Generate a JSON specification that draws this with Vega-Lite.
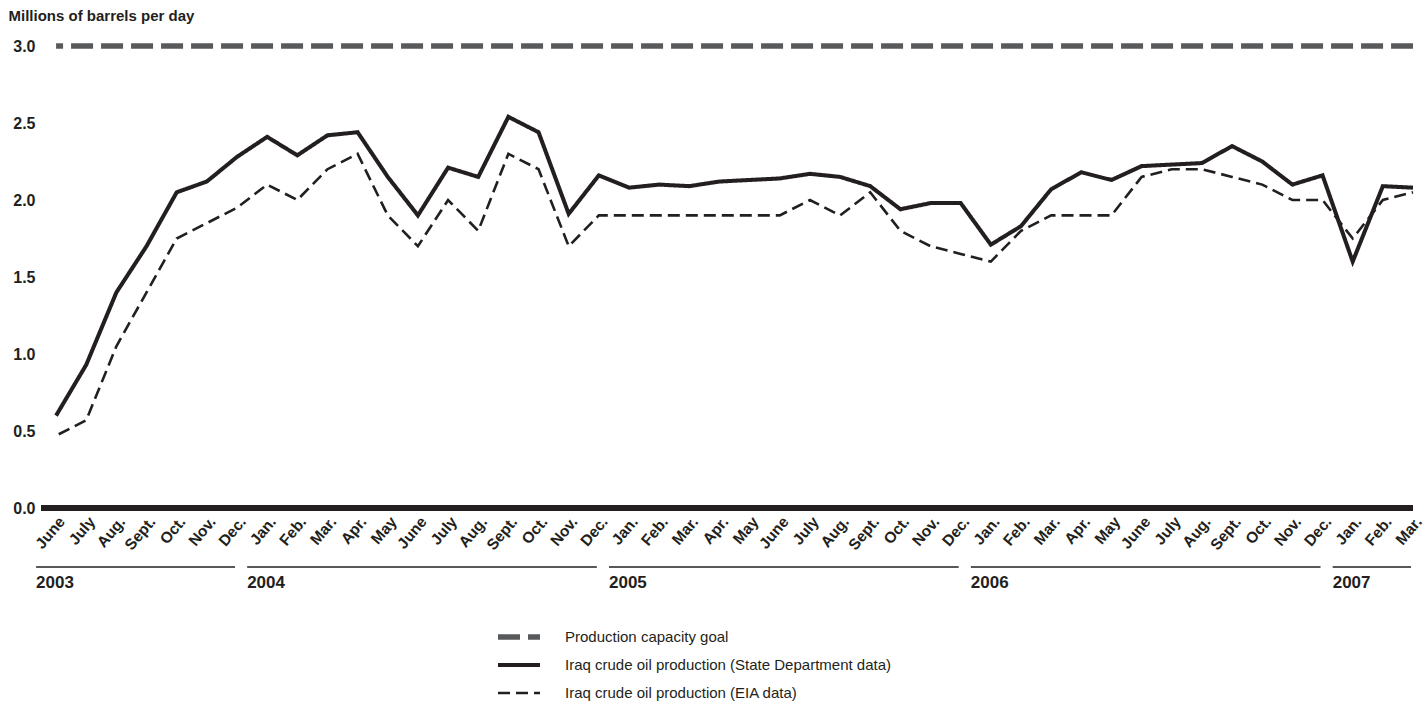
{
  "$schema": "https://vega.github.io/schema/vega-lite/v6.json",
  "padding": {"left": 8, "top": 8, "right": 5, "bottom": 5},
  "background": "white",
  "config": {"font": "Liberation Sans", "view": {"stroke": null}},
  "spacing": 13,
  "datasets": {
    "oil": [
      {"i": 0, "month": "June", "year": 2003, "goal": 3.0, "state": 0.60, "eia": 0.47},
      {"i": 1, "month": "July", "year": 2003, "goal": 3.0, "state": 0.93, "eia": 0.57},
      {"i": 2, "month": "Aug.", "year": 2003, "goal": 3.0, "state": 1.40, "eia": 1.05},
      {"i": 3, "month": "Sept.", "year": 2003, "goal": 3.0, "state": 1.70, "eia": 1.40},
      {"i": 4, "month": "Oct.", "year": 2003, "goal": 3.0, "state": 2.05, "eia": 1.75},
      {"i": 5, "month": "Nov.", "year": 2003, "goal": 3.0, "state": 2.12, "eia": 1.85},
      {"i": 6, "month": "Dec.", "year": 2003, "goal": 3.0, "state": 2.28, "eia": 1.95},
      {"i": 7, "month": "Jan.", "year": 2004, "goal": 3.0, "state": 2.41, "eia": 2.10},
      {"i": 8, "month": "Feb.", "year": 2004, "goal": 3.0, "state": 2.29, "eia": 2.00},
      {"i": 9, "month": "Mar.", "year": 2004, "goal": 3.0, "state": 2.42, "eia": 2.20},
      {"i": 10, "month": "Apr.", "year": 2004, "goal": 3.0, "state": 2.44, "eia": 2.30},
      {"i": 11, "month": "May", "year": 2004, "goal": 3.0, "state": 2.15, "eia": 1.90},
      {"i": 12, "month": "June", "year": 2004, "goal": 3.0, "state": 1.90, "eia": 1.70},
      {"i": 13, "month": "July", "year": 2004, "goal": 3.0, "state": 2.21, "eia": 2.00},
      {"i": 14, "month": "Aug.", "year": 2004, "goal": 3.0, "state": 2.15, "eia": 1.80},
      {"i": 15, "month": "Sept.", "year": 2004, "goal": 3.0, "state": 2.54, "eia": 2.30},
      {"i": 16, "month": "Oct.", "year": 2004, "goal": 3.0, "state": 2.44, "eia": 2.20},
      {"i": 17, "month": "Nov.", "year": 2004, "goal": 3.0, "state": 1.91, "eia": 1.70},
      {"i": 18, "month": "Dec.", "year": 2004, "goal": 3.0, "state": 2.16, "eia": 1.90},
      {"i": 19, "month": "Jan.", "year": 2005, "goal": 3.0, "state": 2.08, "eia": 1.90},
      {"i": 20, "month": "Feb.", "year": 2005, "goal": 3.0, "state": 2.10, "eia": 1.90},
      {"i": 21, "month": "Mar.", "year": 2005, "goal": 3.0, "state": 2.09, "eia": 1.90},
      {"i": 22, "month": "Apr.", "year": 2005, "goal": 3.0, "state": 2.12, "eia": 1.90},
      {"i": 23, "month": "May", "year": 2005, "goal": 3.0, "state": 2.13, "eia": 1.90},
      {"i": 24, "month": "June", "year": 2005, "goal": 3.0, "state": 2.14, "eia": 1.90},
      {"i": 25, "month": "July", "year": 2005, "goal": 3.0, "state": 2.17, "eia": 2.00},
      {"i": 26, "month": "Aug.", "year": 2005, "goal": 3.0, "state": 2.15, "eia": 1.90},
      {"i": 27, "month": "Sept.", "year": 2005, "goal": 3.0, "state": 2.09, "eia": 2.05},
      {"i": 28, "month": "Oct.", "year": 2005, "goal": 3.0, "state": 1.94, "eia": 1.80},
      {"i": 29, "month": "Nov.", "year": 2005, "goal": 3.0, "state": 1.98, "eia": 1.70},
      {"i": 30, "month": "Dec.", "year": 2005, "goal": 3.0, "state": 1.98, "eia": 1.65},
      {"i": 31, "month": "Jan.", "year": 2006, "goal": 3.0, "state": 1.71, "eia": 1.60},
      {"i": 32, "month": "Feb.", "year": 2006, "goal": 3.0, "state": 1.83, "eia": 1.80},
      {"i": 33, "month": "Mar.", "year": 2006, "goal": 3.0, "state": 2.07, "eia": 1.90},
      {"i": 34, "month": "Apr.", "year": 2006, "goal": 3.0, "state": 2.18, "eia": 1.90},
      {"i": 35, "month": "May", "year": 2006, "goal": 3.0, "state": 2.13, "eia": 1.90},
      {"i": 36, "month": "June", "year": 2006, "goal": 3.0, "state": 2.22, "eia": 2.15},
      {"i": 37, "month": "July", "year": 2006, "goal": 3.0, "state": 2.23, "eia": 2.20},
      {"i": 38, "month": "Aug.", "year": 2006, "goal": 3.0, "state": 2.24, "eia": 2.20},
      {"i": 39, "month": "Sept.", "year": 2006, "goal": 3.0, "state": 2.35, "eia": 2.15},
      {"i": 40, "month": "Oct.", "year": 2006, "goal": 3.0, "state": 2.25, "eia": 2.10},
      {"i": 41, "month": "Nov.", "year": 2006, "goal": 3.0, "state": 2.10, "eia": 2.00},
      {"i": 42, "month": "Dec.", "year": 2006, "goal": 3.0, "state": 2.16, "eia": 2.00},
      {"i": 43, "month": "Jan.", "year": 2007, "goal": 3.0, "state": 1.60, "eia": 1.75},
      {"i": 44, "month": "Feb.", "year": 2007, "goal": 3.0, "state": 2.09, "eia": 2.00},
      {"i": 45, "month": "Mar.", "year": 2007, "goal": 3.0, "state": 2.08, "eia": 2.05}
    ],
    "years": [
      {"year": "2003", "first": 0, "last": 6},
      {"year": "2004", "first": 7, "last": 18},
      {"year": "2005", "first": 19, "last": 30},
      {"year": "2006", "first": 31, "last": 42},
      {"year": "2007", "first": 43, "last": 45}
    ]
  },
  "vconcat": [
    {
      "width": 1372,
      "height": 462,
      "layer": [
        {
          "data": {"name": "oil"},
          "transform": [{"fold": ["goal", "state", "eia"], "as": ["series", "value"]}],
          "mark": {"type": "line", "strokeCap": "butt", "strokeJoin": "miter", "strokeDashOffset": 15},
          "encoding": {
            "x": {
              "field": "i",
              "type": "quantitative",
              "scale": {"domain": [-0.5, 45], "nice": false, "zero": false},
              "axis": {
                "title": null,
                "values": [0,1,2,3,4,5,6,7,8,9,10,11,12,13,14,15,16,17,18,19,20,21,22,23,24,25,26,27,28,29,30,31,32,33,34,35,36,37,38,39,40,41,42,43,44,45],
                "labelExpr": "['June','July','Aug.','Sept.','Oct.','Nov.','Dec.','Jan.','Feb.','Mar.','Apr.','May'][datum.value % 12]",
                "labelAngle": -50,
                "labelAlign": "right",
                "labelBaseline": "top",
                "labelFontSize": 15.5,
                "labelFontWeight": "bold",
                "labelColor": "#231f20",
                "labelPadding": 6,
                "labelOverlap": false,
                "labelFlush": false,
                "domain": false,
                "ticks": false,
                "grid": false
              }
            },
            "y": {
              "field": "value",
              "type": "quantitative",
              "scale": {"domain": [0, 3], "nice": false},
              "axis": {
                "title": "Millions of barrels per day",
                "titleAngle": 0,
                "titleX": -33,
                "titleY": -31,
                "titleAlign": "left",
                "titleBaseline": "middle",
                "titleFontSize": 15,
                "titleFontWeight": "bold",
                "titleColor": "#231f20",
                "values": [0, 0.5, 1, 1.5, 2, 2.5, 3],
                "format": ".1f",
                "labelFontSize": 16,
                "labelFontWeight": "bold",
                "labelColor": "#231f20",
                "labelPadding": 6,
                "domain": false,
                "ticks": false,
                "grid": false
              }
            },
            "color": {
              "field": "series",
              "type": "nominal",
              "scale": {"domain": ["goal", "state", "eia"], "range": ["#58595b", "#231f20", "#231f20"]},
              "legend": {
                "title": null,
                "orient": "none",
                "legendX": 454,
                "legendY": 583,
                "direction": "vertical",
                "symbolType": "stroke",
                "symbolSize": 1764,
                "clipHeight": 16,
                "labelFontSize": 15,
                "labelColor": "#231f20",
                "labelOffset": 22,
                "labelLimit": 0,
                "rowPadding": 12,
                "labelExpr": "datum.label == 'goal' ? 'Production capacity goal' : datum.label == 'state' ? 'Iraq crude oil production (State Department data)' : 'Iraq crude oil production (EIA data)'"
              }
            },
            "strokeDash": {
              "field": "series",
              "type": "nominal",
              "scale": {"domain": ["goal", "state", "eia"], "range": [[22, 8], [1, 0], [12, 6]]}
            },
            "strokeWidth": {
              "field": "series",
              "type": "nominal",
              "scale": {"domain": ["goal", "state", "eia"], "range": [5.5, 2.6, 1.2]}
            }
          }
        },
        {
          "data": {"values": [{"base": 0}]},
          "mark": {"type": "rule", "color": "#231f20", "strokeWidth": 6, "strokeCap": "butt"},
          "encoding": {
            "y": {
              "field": "base",
              "type": "quantitative",
              "axis": {
                "title": "Millions of barrels per day",
                "titleAngle": 0,
                "titleX": -33,
                "titleY": -31,
                "titleAlign": "left",
                "titleBaseline": "middle",
                "titleFontSize": 15,
                "titleFontWeight": "bold",
                "titleColor": "#231f20",
                "values": [0, 0.5, 1, 1.5, 2, 2.5, 3],
                "format": ".1f",
                "labelFontSize": 16,
                "labelFontWeight": "bold",
                "labelColor": "#231f20",
                "labelPadding": 6,
                "domain": false,
                "ticks": false,
                "grid": false
              }
            }
          }
        }
      ]
    },
    {
      "width": 1372,
      "height": 21,
      "data": {"name": "years"},
      "layer": [
        {
          "mark": {"type": "rule", "color": "#231f20", "strokeWidth": 1.5, "xOffset": -20, "x2Offset": -2},
          "encoding": {
            "x": {"field": "first", "type": "quantitative", "axis": null},
            "x2": {"field": "last"},
            "y": {"datum": 1, "type": "quantitative", "scale": {"domain": [0, 1]}, "axis": null}
          }
        },
        {
          "mark": {"type": "text", "align": "left", "baseline": "alphabetic", "xOffset": -20, "fontSize": 17, "fontWeight": "bold", "color": "#231f20"},
          "encoding": {
            "x": {"field": "first", "type": "quantitative", "axis": null},
            "y": {"datum": 0, "type": "quantitative", "axis": null},
            "text": {"field": "year"}
          }
        }
      ]
    }
  ],
  "resolve": {"scale": {"x": "shared"}}
}
